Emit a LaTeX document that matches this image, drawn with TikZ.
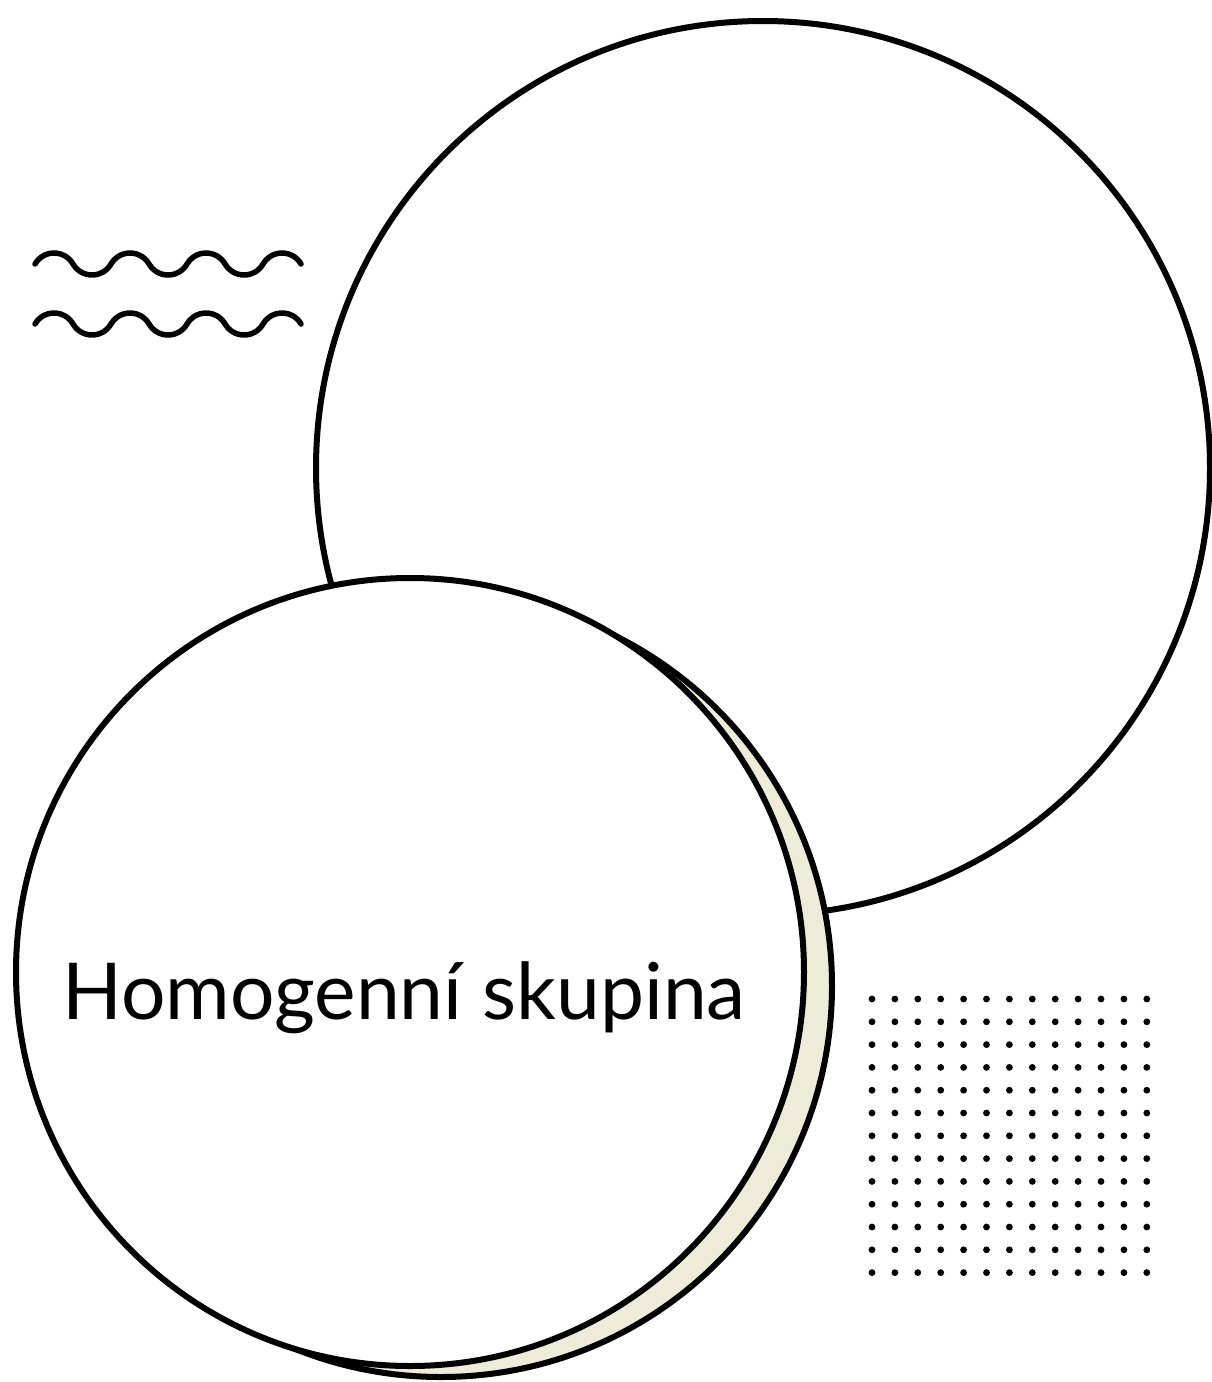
\documentclass[tikz,border=0pt]{standalone}
\usepackage{fontspec}
\setmainfont{Lato}
\definecolor{cream}{RGB}{238,235,216}
\tikzset{
  ring/.style={draw=black, line width=6pt},
  wave/.style={draw=black, line width=5.5pt, line cap=round},
  dot/.style={fill=black},
}
\begin{document}
\begin{tikzpicture}[x=1pt,y=-1pt]
\useasboundingbox (0,0) rectangle (1212,1382);
% big circle
\node[ring, circle, minimum size=894pt, inner sep=0pt, fill=white] (big) at (763,468) {};
% shadow circle
\node[ring, circle, minimum size=782pt, inner sep=0pt, fill=cream] (shadow) at (441,986) {};
% front circle
\node[ring, circle, minimum size=788pt, inner sep=0pt, fill=white] (front) at (410,972) {};
\node[font=\fontsize{78.5}{82}\selectfont, anchor=base] (label) at (404,1019) {Homogenní skupina};
% waves
\foreach \yy in {264,324}{
  \draw[wave] (35,\yy)
    arc[start angle=-150.2, end angle=-29.8, radius=21.9]
    arc[start angle=150.2, end angle=29.8, radius=21.9]
    arc[start angle=-150.2, end angle=-29.8, radius=21.9]
    arc[start angle=150.2, end angle=29.8, radius=21.9]
    arc[start angle=-150.2, end angle=-29.8, radius=21.9]
    arc[start angle=150.2, end angle=29.8, radius=21.9]
    arc[start angle=-150.2, end angle=-29.8, radius=21.9];
}
% dot grid
\foreach \i in {0,...,12}{
  \foreach \j in {0,...,12}{
    \fill[dot] ({872+22.9*\i},{999+22.8*\j}) circle (3.4pt);
  }
}
\end{tikzpicture}
\end{document}
